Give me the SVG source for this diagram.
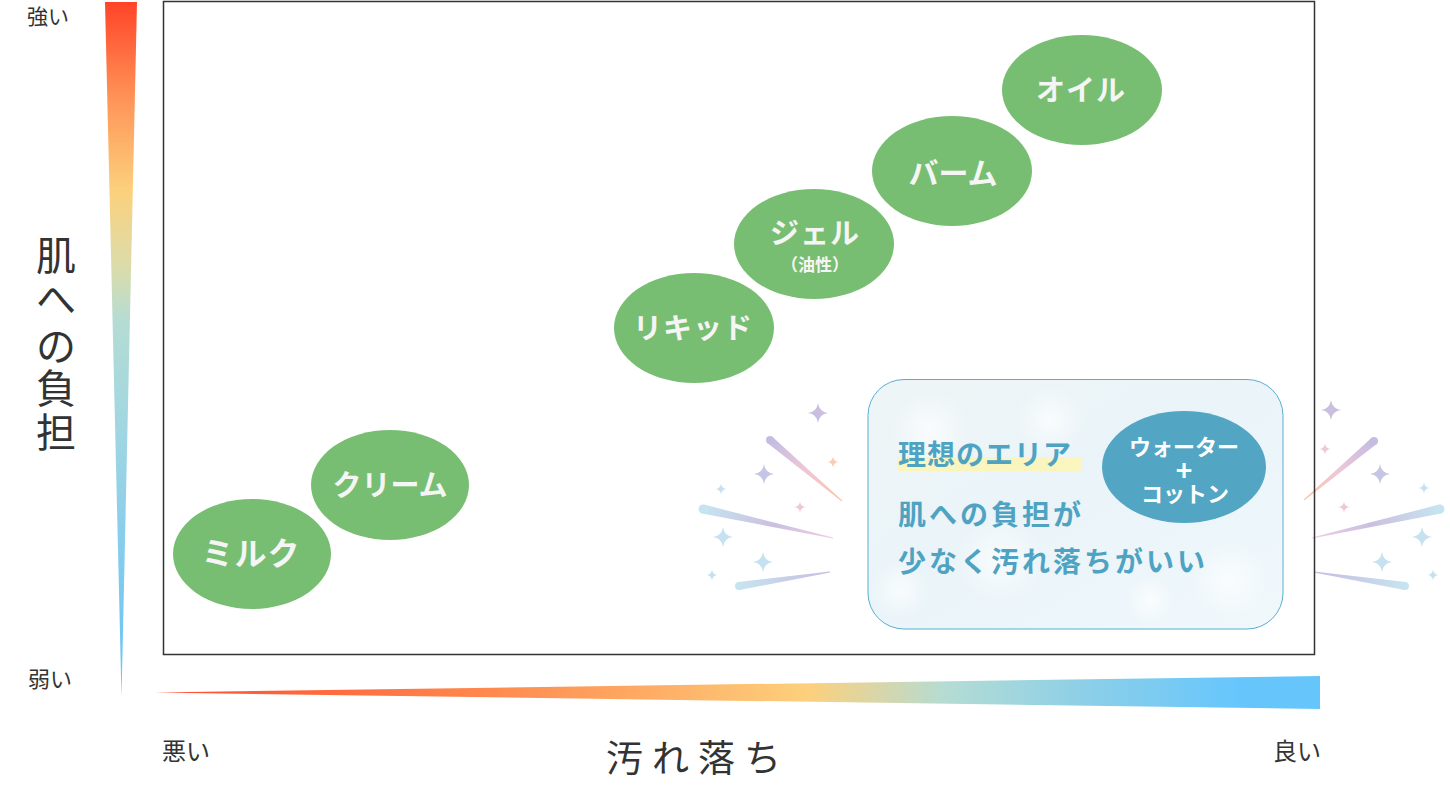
<svg xmlns="http://www.w3.org/2000/svg" xmlns:xlink="http://www.w3.org/1999/xlink" width="1450" height="795" viewBox="0 0 1450 795">
<style>
  .ax { font-family: "Noto Sans CJK JP", "Liberation Sans", sans-serif; fill: #333333; }
  .node ellipse { fill: #78be72; }
  .nt { font-family: "Noto Sans CJK JP", "Liberation Sans", sans-serif; font-weight: 700; fill: #f5f5f5; text-anchor: middle; }
  .bt { font-family: "Noto Sans CJK JP", "Liberation Sans", sans-serif; font-weight: 700; fill: #4fa3c2; }
  .ct { font-family: "Noto Sans CJK JP", "Liberation Sans", sans-serif; font-weight: 700; fill: #ffffff; text-anchor: middle; }
</style>
<defs>
  <linearGradient id="gv" x1="0" y1="2" x2="0" y2="697" gradientUnits="userSpaceOnUse">
    <stop offset="0" stop-color="#ff4428"/>
    <stop offset="0.14" stop-color="#ff9458"/>
    <stop offset="0.27" stop-color="#fcd07c"/>
    <stop offset="0.38" stop-color="#dcdcaa"/>
    <stop offset="0.46" stop-color="#b4dcd4"/>
    <stop offset="0.62" stop-color="#a0d6e2"/>
    <stop offset="0.8" stop-color="#84ccee"/>
    <stop offset="1" stop-color="#62c2fa"/>
  </linearGradient>
  <linearGradient id="gh" x1="155" y1="0" x2="1320" y2="0" gradientUnits="userSpaceOnUse">
    <stop offset="0" stop-color="#ff4a2c"/>
    <stop offset="0.3" stop-color="#ff8c50"/>
    <stop offset="0.56" stop-color="#fdd07c"/>
    <stop offset="0.68" stop-color="#b4dcd4"/>
    <stop offset="0.8" stop-color="#8ccfe8"/>
    <stop offset="0.93" stop-color="#66c6fc"/>
    <stop offset="1" stop-color="#66c6fc"/>
  </linearGradient>
  <linearGradient id="gbox" x1="0" y1="0" x2="1" y2="1">
    <stop offset="0" stop-color="#eef5f6"/>
    <stop offset="0.5" stop-color="#eaf4f9"/>
    <stop offset="1" stop-color="#f0f8fc"/>
  </linearGradient>
  <radialGradient id="bokeh">
    <stop offset="0" stop-color="#ffffff" stop-opacity="0.7"/>
    <stop offset="1" stop-color="#ffffff" stop-opacity="0"/>
  </radialGradient>
  <linearGradient id="l1" x1="770" y1="440" x2="842" y2="501" gradientUnits="userSpaceOnUse">
    <stop offset="0" stop-color="#c3bde2"/><stop offset="0.5" stop-color="#efc6d8"/><stop offset="1" stop-color="#fac8a6"/>
  </linearGradient>
  <linearGradient id="l2" x1="703" y1="509" x2="833" y2="538" gradientUnits="userSpaceOnUse">
    <stop offset="0" stop-color="#c6e4f0"/><stop offset="0.55" stop-color="#cbbfe0"/><stop offset="1" stop-color="#f2cfe0"/>
  </linearGradient>
  <linearGradient id="l3" x1="739" y1="586" x2="830" y2="572" gradientUnits="userSpaceOnUse">
    <stop offset="0" stop-color="#c6e4f0"/><stop offset="1" stop-color="#c6bce0"/>
  </linearGradient>
  <linearGradient id="r1" x1="1374" y1="441" x2="1304" y2="500" gradientUnits="userSpaceOnUse">
    <stop offset="0" stop-color="#c3bde2"/><stop offset="0.5" stop-color="#efc6d8"/><stop offset="1" stop-color="#fac8a6"/>
  </linearGradient>
  <linearGradient id="r2" x1="1440" y1="509" x2="1312" y2="538" gradientUnits="userSpaceOnUse">
    <stop offset="0" stop-color="#c6e4f0"/><stop offset="0.55" stop-color="#cbbfe0"/><stop offset="1" stop-color="#f2cfe0"/>
  </linearGradient>
  <linearGradient id="r3" x1="1405" y1="586" x2="1314" y2="572" gradientUnits="userSpaceOnUse">
    <stop offset="0" stop-color="#c6e4f0"/><stop offset="1" stop-color="#c6bce0"/>
  </linearGradient>
  <path id="sp" d="M0,-1 Q0.12,-0.12 1,0 Q0.12,0.12 0,1 Q-0.12,0.12 -1,0 Q-0.12,-0.12 0,-1 Z"/>
</defs>

<rect x="0" y="0" width="1450" height="795" fill="#ffffff"/>

<!-- axes -->
<g id="axis-y">
  <polygon points="105,2 137,2 121.5,697" fill="url(#gv)"/>
  <text class="ax" x="27" y="24" font-size="21">強い</text>
  <text class="ax" x="28" y="687" font-size="22">弱い</text>
  <g class="ax" font-size="40" text-anchor="middle">
    <text x="56" y="270">肌</text>
    <text x="56" y="314">へ</text>
    <text x="56" y="361">の</text>
    <text x="56" y="403">負</text>
    <text x="56" y="447">担</text>
  </g>
</g>
<g id="axis-x">
  <polygon points="155,692.5 1320,676 1320,709" fill="url(#gh)"/>
  <text class="ax" x="162" y="760" font-size="24">悪い</text>
  <text class="ax" x="1321" y="760" font-size="24" text-anchor="end">良い</text>
  <text class="ax" x="698" y="772" font-size="37" text-anchor="middle" letter-spacing="9">汚れ落ち</text>
</g>

<!-- sparkles -->
<g id="sparkles">
  <polygon points="767.4,443.1 772.6,436.9 842.3,500.6 841.7,501.4" fill="url(#l1)"/>
  <circle cx="770" cy="440" r="4" fill="#c3bde2"/>
  <polygon points="702,513.4 704,504.6 833.1,537.5 832.9,538.5" fill="url(#l2)"/>
  <circle cx="703" cy="509" r="4.5" fill="#c6e4f0"/>
  <polygon points="739.6,590 738.4,582 829.9,571.5 830.1,572.5" fill="url(#l3)"/>
  <circle cx="739" cy="586" r="4" fill="#c6e4f0"/>

  <polygon points="1371.4,437.9 1376.6,444.1 1304.3,500.4 1303.7,499.6" fill="url(#r1)"/>
  <circle cx="1374" cy="441" r="4" fill="#c3bde2"/>
  <polygon points="1439,504.6 1441,513.4 1312.1,538.5 1311.9,537.5" fill="url(#r2)"/>
  <circle cx="1440" cy="509" r="4.5" fill="#c6e4f0"/>
  <polygon points="1405.6,582 1404.4,590 1313.9,572.5 1314.1,571.5" fill="url(#r3)"/>
  <circle cx="1405" cy="586" r="4" fill="#c6e4f0"/>

  <use xlink:href="#sp" href="#sp" transform="translate(818,413) scale(10)" fill="#cbbfdf"/>
  <use xlink:href="#sp" href="#sp" transform="translate(833,462) scale(5.5)" fill="#f8cdb8"/>
  <use xlink:href="#sp" href="#sp" transform="translate(764,474) scale(10)" fill="#c4c6e4"/>
  <use xlink:href="#sp" href="#sp" transform="translate(721,489) scale(5.5)" fill="#c6e2f0"/>
  <use xlink:href="#sp" href="#sp" transform="translate(800,507) scale(5.5)" fill="#f0c8d8"/>
  <use xlink:href="#sp" href="#sp" transform="translate(723,537) scale(10)" fill="#c6e2f0"/>
  <use xlink:href="#sp" href="#sp" transform="translate(763,562) scale(10)" fill="#c6e2f0"/>
  <use xlink:href="#sp" href="#sp" transform="translate(712,575) scale(5.5)" fill="#c6e2f0"/>

  <use xlink:href="#sp" href="#sp" transform="translate(1331,410) scale(10)" fill="#cbbfdf"/>
  <use xlink:href="#sp" href="#sp" transform="translate(1325,449) scale(5.5)" fill="#f0c8d8"/>
  <use xlink:href="#sp" href="#sp" transform="translate(1380,474) scale(10)" fill="#c4c6e4"/>
  <use xlink:href="#sp" href="#sp" transform="translate(1424,488) scale(5.5)" fill="#c6e2f0"/>
  <use xlink:href="#sp" href="#sp" transform="translate(1344,507) scale(5.5)" fill="#f0c8d8"/>
  <use xlink:href="#sp" href="#sp" transform="translate(1422,537) scale(10)" fill="#c6e2f0"/>
  <use xlink:href="#sp" href="#sp" transform="translate(1382,562) scale(10)" fill="#c6e2f0"/>
  <use xlink:href="#sp" href="#sp" transform="translate(1433,575) scale(5.5)" fill="#c6e2f0"/>
</g>

<!-- frame -->
<rect id="frame" x="163.5" y="1.5" width="1151" height="653" fill="none" stroke="#333333" stroke-width="1.5"/>

<!-- product nodes -->
<g id="node-milk" class="node">
  <ellipse cx="252" cy="554" rx="79" ry="55"/>
  <text class="nt" x="251" y="565" font-size="32" letter-spacing="1">ミルク</text>
</g>
<g id="node-cream" class="node">
  <ellipse cx="390" cy="485" rx="79" ry="55"/>
  <text class="nt" x="390" y="496" font-size="29">クリーム</text>
</g>
<g id="node-liquid" class="node">
  <ellipse cx="694" cy="328" rx="80" ry="55"/>
  <text class="nt" x="693" y="339" font-size="29" letter-spacing="1">リキッド</text>
</g>
<g id="node-gel" class="node">
  <ellipse cx="814" cy="244" rx="80" ry="55"/>
  <text class="nt" x="815" y="244" font-size="29" letter-spacing="1">ジェル</text>
  <text class="nt" x="815" y="271" font-size="17">（油性）</text>
</g>
<g id="node-balm" class="node">
  <ellipse cx="952" cy="171" rx="80" ry="55"/>
  <text class="nt" x="953" y="184" font-size="30">バーム</text>
</g>
<g id="node-oil" class="node">
  <ellipse cx="1082" cy="90" rx="80" ry="55"/>
  <text class="nt" x="1081" y="101" font-size="29" letter-spacing="1">オイル</text>
</g>

<!-- ideal area -->
<g id="ideal-area">
  <rect x="868" y="379.5" width="415" height="249.5" rx="36" fill="url(#gbox)" stroke="#5aaed0" stroke-width="1"/>
  <circle cx="930" cy="430" r="40" fill="url(#bokeh)"/>
  <circle cx="1050" cy="420" r="35" fill="url(#bokeh)"/>
  <circle cx="1000" cy="560" r="45" fill="url(#bokeh)"/>
  <circle cx="1230" cy="580" r="40" fill="url(#bokeh)"/>
  <circle cx="1150" cy="600" r="25" fill="url(#bokeh)"/>
  <circle cx="900" cy="590" r="30" fill="url(#bokeh)"/>
  <rect x="897" y="457" width="184" height="14" fill="#faf4bf"/>
  <text class="bt" x="898" y="465" font-size="28" letter-spacing="1">理想のエリア</text>
  <text class="bt" x="898" y="525" font-size="28" letter-spacing="3">肌への負担が</text>
  <text class="bt" x="898" y="572" font-size="28" letter-spacing="3">少なく汚れ落ちがいい</text>
</g>
<g id="node-water-cotton">
  <ellipse cx="1184" cy="467" rx="82" ry="56" fill="#52a6c4"/>
  <text class="ct" x="1184" y="455" font-size="22">ウォーター</text>
  <text class="ct" x="1184" y="481" font-size="28" font-weight="400">+</text>
  <text class="ct" x="1185" y="502" font-size="22">コットン</text>
</g>
</svg>
